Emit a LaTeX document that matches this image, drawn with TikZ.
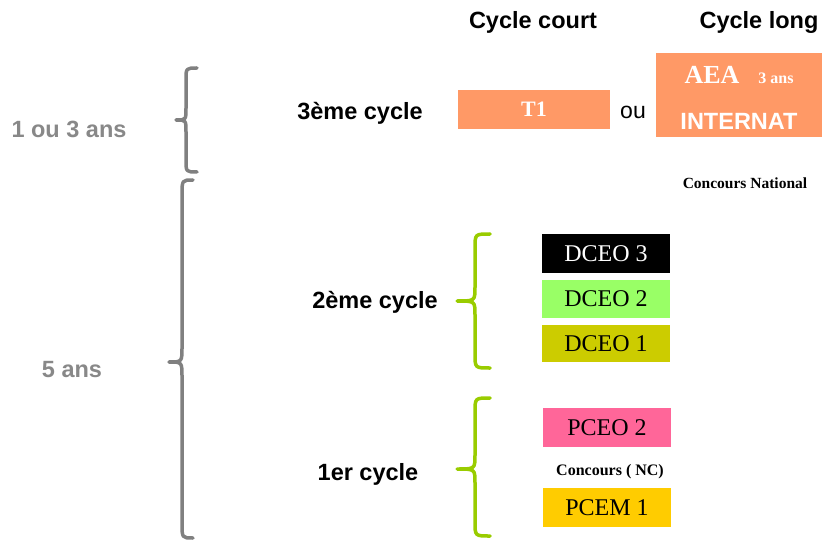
\documentclass[tikz,border=0pt]{standalone}
\usepackage{fontspec}
\setmainfont{Liberation Serif}
\setsansfont{Liberation Sans}
\definecolor{salmon}{HTML}{FF9966}
\definecolor{lgreen}{HTML}{99FF66}
\definecolor{olive}{HTML}{CCCC00}
\definecolor{pinkc}{HTML}{FF6699}
\definecolor{gold}{HTML}{FFCC00}
\definecolor{bracegreen}{HTML}{99CC00}
\definecolor{graytxt}{HTML}{888888}
\definecolor{graybrace}{HTML}{808080}
\newcommand{\bracepath}[8]{% color, xe, xv, xt, ya, ym, yb, r
  \draw[#1, line width=3.5pt, line cap=round, line join=round]
    (#2,#5) .. controls (#3,#5) .. (#3,#5+#8) -- (#3,#6-#8)
    .. controls (#3,#6) .. (#4,#6) .. controls (#3,#6) .. (#3,#6+#8)
    -- (#3,#7-#8) .. controls (#3,#7) .. (#2,#7);}
\begin{document}
\begin{tikzpicture}[x=1pt,y=-1pt,
  lbl/.style={font=\sffamily\bfseries\fontsize{23.5}{28}\selectfont, inner sep=0pt},
  graylbl/.style={lbl, text=graytxt},
  box/.style={minimum width=128pt, minimum height=38pt, inner sep=0pt,
    font=\rmfamily\fontsize{24}{28}\selectfont},
  small/.style={font=\rmfamily\bfseries\fontsize{15.5}{18}\selectfont, inner sep=0pt}]
\useasboundingbox (0,0) rectangle (822,540);
% headers
\node[lbl] (hcourt) at (533,22) {Cycle court};
\node[lbl] (hlong) at (759,22) {Cycle long};
% left labels
\node[graylbl] (l13) at (69,129) {1 ou 3 ans};
\node[graylbl] (l5) at (72,370) {5 ans};
\bracepath{graybrace}{197}{186}{176}{68}{120}{172}{12}
\bracepath{graybrace}{193}{182}{169}{180}{362}{538}{15}
% cycles
\node[lbl] (c3) at (360,113) {3ème cycle};
\node[lbl] (c2) at (375,302) {2ème cycle};
\node[lbl] (c1) at (368,474) {1er cycle};
\bracepath{bracegreen}{490}{475}{457}{234}{301}{368}{14}
\bracepath{bracegreen}{490}{475}{457}{398}{469}{536}{14}
% third cycle
\node[box, fill=salmon, minimum width=152pt, minimum height=39pt, text=white,
  font=\rmfamily\bfseries\fontsize{22}{26}\selectfont] (t1) at (534,109.5) {T1};
\node[font=\sffamily\fontsize{23}{27}\selectfont, inner sep=0pt] (ou) at (633,112) {ou};
\node[fill=salmon, minimum width=166pt, minimum height=84pt, inner sep=0pt] (aeabox) at (739,95) {};
\node[text=white, font=\rmfamily\bfseries\fontsize{26}{30}\selectfont, inner sep=0pt] (aea) at (712,75) {AEA};
\node[text=white, font=\rmfamily\bfseries\fontsize{16}{19}\selectfont, inner sep=0pt] (ans3) at (776,78) {3 ans};
\node[text=white, font=\sffamily\bfseries\fontsize{23.5}{28}\selectfont, inner sep=0pt] (internat) at (739,121) {INTERNAT};
\node[small] (cn) at (745,183) {Concours National};
% second cycle
\node[box, fill=black, text=white, minimum height=39pt] (d3) at (606,253.5) {DCEO 3};
\node[box, fill=lgreen] (d2) at (606,299) {DCEO 2};
\node[box, fill=olive, minimum height=37pt] (d1) at (606,343.5) {DCEO 1};
% first cycle
\node[box, fill=pinkc, minimum height=39pt] (p2) at (607,427.5) {PCEO 2};
\node[small, font=\rmfamily\bfseries\fontsize{16}{19}\selectfont] (cnc) at (610,472) {Concours ( NC)};
\node[box, fill=gold, minimum height=39pt] (p1) at (607,507.5) {PCEM 1};
\end{tikzpicture}
\end{document}
